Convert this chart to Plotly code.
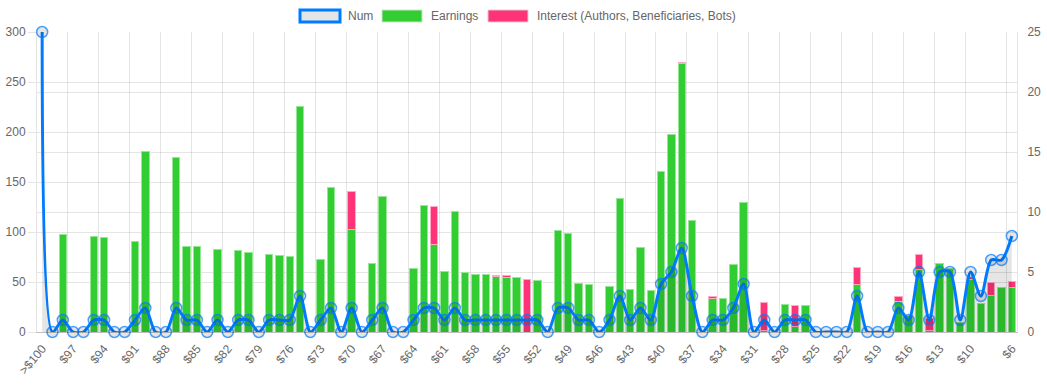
import plotly.graph_objects as go

categories = [">$100", "$99", "$98", "$97", "$96", "$95", "$94", "$93", "$92", "$91",
              "$90", "$89", "$88", "$87", "$86", "$85", "$84", "$83", "$82", "$81",
              "$80", "$79", "$78", "$77", "$76", "$75", "$74", "$73", "$72", "$71",
              "$70", "$69", "$68", "$67", "$66", "$65", "$64", "$63", "$62", "$61",
              "$60", "$59", "$58", "$57", "$56", "$55", "$54", "$53", "$52", "$51",
              "$50", "$49", "$48", "$47", "$46", "$45", "$44", "$43", "$42", "$41",
              "$40", "$39", "$38", "$37", "$36", "$35", "$34", "$33", "$32", "$31",
              "$30", "$29", "$28", "$27", "$26", "$25", "$24", "$23", "$22", "$21",
              "$20", "$19", "$18", "$17", "$16", "$15", "$14", "$13", "$12", "$11",
              "$10", "$9", "$8", "$7", "$6"]

num = [25, 0, 1, 0, 0, 1, 1, 0, 0, 1,
       2, 0, 0, 2, 1, 1, 0, 1, 0, 1,
       1, 0, 1, 1, 1, 3, 0, 1, 2, 0,
       2, 0, 1, 2, 0, 0, 1, 2, 2, 1,
       2, 1, 1, 1, 1, 1, 1, 1, 1, 0,
       2, 2, 1, 1, 0, 1, 3, 1, 2, 1,
       4, 5, 7, 3, 0, 1, 1, 2, 4, 0,
       1, 0, 1, 1, 1, 0, 0, 0, 0, 3,
       0, 0, 0, 2, 1, 5, 1, 5, 5, 1,
       5, 3, 6, 6, 8]

earnings = [0, 0, 98, 0, 0, 96, 95, 0, 0, 91,
            181, 0, 0, 175, 86, 86, 0, 83, 0, 82,
            80, 0, 78, 77, 76, 226, 0, 73, 145, 0,
            103, 0, 69, 136, 0, 0, 64, 127, 88, 61,
            121, 60, 58, 58, 56, 55, 55, 0, 52, 0,
            102, 99, 49, 48, 0, 46, 134, 43, 85, 42,
            161, 198, 269, 112, 0, 34, 34, 68, 130, 0,
            2, 0, 28, 6, 27, 0, 0, 0, 0, 48,
            0, 0, 0, 31, 17, 63, 2, 69, 64, 10,
            53, 29, 37, 45, 45]

interest = [0, 0, 0, 0, 0, 0, 0, 0, 0, 0,
            0, 0, 0, 0, 0, 0, 0, 0, 0, 0,
            0, 0, 0, 0, 0, 0, 0, 0, 0, 0,
            38, 0, 0, 0, 0, 0, 0, 0, 38, 0,
            0, 0, 0, 0, 1, 1.5, 0, 53, 0, 0,
            0, 0, 0, 0, 0, 0, 0, 0, 0, 0,
            0, 0, 1, 0, 0, 1.5, 0, 0, 0, 0,
            28, 0, 0, 21, 0, 0, 0, 0, 0, 17,
            0, 0, 0, 5, 0, 15, 12, 0, 0, 0,
            2, 0, 13, 0, 6]

tick_index = [0, 3, 6, 9, 12, 15, 18, 21, 24, 27, 30, 33, 36, 39, 42, 45,
              48, 51, 54, 57, 60, 63, 66, 69, 72, 75, 78, 81, 84, 87, 90, 94]

series_names = ["Num", "Earnings", "Interest (Authors, Beneficiaries, Bots)"]

BLUE = "rgb(0,123,255)"
GREEN = "rgb(50,205,50)"
PINK = "rgb(255,51,119)"
GREY_FILL = "rgba(0,0,0,0.1)"
GRID = "rgba(0,0,0,0.1)"
TXT = "#666666"
FONT = "Liberation Sans, Arial, Helvetica, sans-serif"

x = list(range(len(categories)))
# empty bars (value 0) are not drawn, as in the original
earn_plot = [v if v else None for v in earnings]
int_plot = [v if v else None for v in interest]

fig = go.Figure()
fig.add_trace(go.Bar(x=x, y=earn_plot, name=series_names[1],
                     marker=dict(color=GREEN, line=dict(color="rgb(150,230,150)", width=1))))
fig.add_trace(go.Bar(x=x, y=int_plot, name=series_names[2],
                     marker=dict(color=PINK, line=dict(color="rgb(255,170,195)", width=1))))
fig.add_trace(go.Scatter(x=x, y=num, name=series_names[0], yaxis="y2",
                         mode="lines+markers",
                         line=dict(color=BLUE, width=3, shape="spline", smoothing=0.8),
                         fill="tozeroy", fillcolor=GREY_FILL,
                         marker=dict(size=11, color=GREY_FILL,
                                     line=dict(color="rgba(0,123,255,0.7)", width=1.5)),
                         cliponaxis=False))

W, H = 1047, 387
ML, MR, MT, MB = 37, 30, 32, 55
PW, PH = W - ML - MR, H - MT - MB


def px(xp):
    return (xp - ML) / PW


def py(yp):
    return (H - MB - yp) / PH


shapes = []
annotations = []
# custom legend (boxes 40x12, like the original)
legend_items = [
    (300, 346, GREY_FILL, BLUE, 3, series_names[0]),
    (382, 429, GREEN, "rgb(200,230,200)", 1, series_names[1]),
    (488, 535, PINK, "rgb(230,200,210)", 1, series_names[2]),
]
for bx, tx, fc, lc, lw, name in legend_items:
    shapes.append(dict(type="rect", xref="paper", yref="paper",
                       x0=px(bx), x1=px(bx + 40), y0=py(22), y1=py(10),
                       fillcolor=fc, line=dict(color=lc, width=lw), layer="above"))
    annotations.append(dict(xref="paper", yref="paper", x=px(tx), y=py(16),
                            xanchor="left", yanchor="middle", text=name, showarrow=False,
                            font=dict(family=FONT, size=12, color=TXT)))

fig.update_layout(
    width=W, height=H,
    margin=dict(l=ML, r=MR, t=MT, b=MB, autoexpand=False),
    paper_bgcolor="white", plot_bgcolor="white",
    barmode="stack", bargap=0.28,
    showlegend=False,
    font=dict(family=FONT, size=12, color=TXT),
    shapes=shapes, annotations=annotations,
    xaxis=dict(range=[-0.5, len(categories) - 0.5], tickmode="array",
               tickvals=tick_index, ticktext=[categories[i] for i in tick_index],
               tickangle=-50, showgrid=False, zeroline=False, automargin=False,
               showline=True, linecolor="rgba(0,0,0,0.25)", linewidth=1,
               ticks="outside", ticklen=4, tickcolor="rgba(0,0,0,0)",
               minor=dict(tickmode="array", tickvals=[i - 0.5 for i in tick_index],
                          showgrid=True, gridcolor=GRID, gridwidth=1, ticks=""),
               tickfont=dict(family=FONT, size=12, color=TXT)),
    yaxis=dict(range=[0, 300], dtick=50, showgrid=True, gridcolor=GRID, zeroline=False,
               automargin=False,
               showline=True, linecolor=GRID, ticks="outside", ticklen=8, tickcolor=GRID,
               tickfont=dict(family=FONT, size=12, color=TXT)),
    yaxis2=dict(range=[0, 25], dtick=5, overlaying="y", side="right", showgrid=True,
                gridcolor=GRID, zeroline=False, showline=True, linecolor=GRID,
                automargin=False,
                ticks="outside", ticklen=7, tickcolor="rgba(0,0,0,0)",
                tickfont=dict(family=FONT, size=12, color=TXT)),
)

fig.write_html("out.html", config={"displayModeBar": False},
               post_script="document.body.style.margin='0px';document.body.style.overflow='hidden';")
